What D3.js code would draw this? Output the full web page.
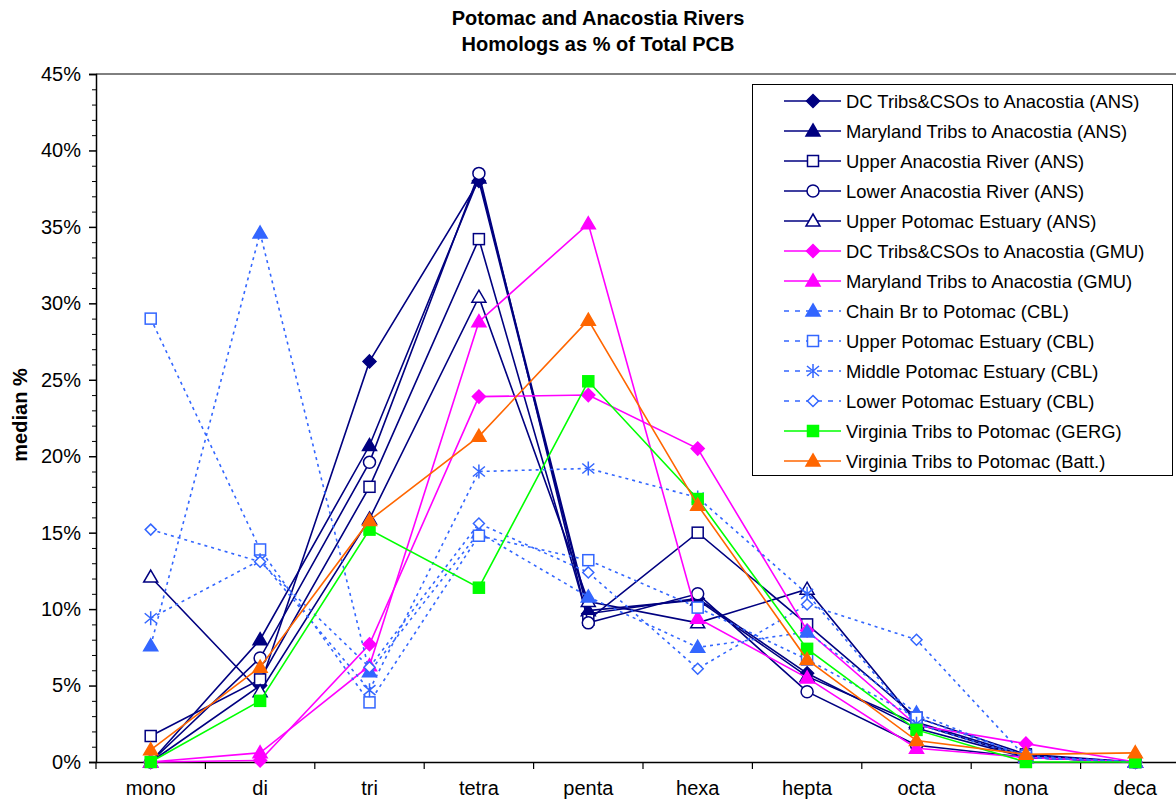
<!DOCTYPE html>
<html><head><meta charset="utf-8">
<script src="https://cdn.jsdelivr.net/npm/d3@7/dist/d3.min.js"></script>
<style>body{margin:0;background:#fff}svg{display:block}text{font-family:Arial,"Liberation Sans",sans-serif}</style>
</head><body><svg id="c" width="1176" height="800"></svg>
<script>
const categories = ["mono","di","tri","tetra","penta","hexa","hepta","octa","nona","deca"];
const yTicks = [0,5,10,15,20,25,30,35,40,45];
const seriesNames = [
 "DC Tribs&CSOs to Anacostia (ANS)","Maryland Tribs to Anacostia (ANS)","Upper Anacostia River (ANS)",
 "Lower Anacostia River (ANS)","Upper Potomac Estuary (ANS)","DC Tribs&CSOs to Anacostia (GMU)",
 "Maryland Tribs to Anacostia (GMU)","Chain Br to Potomac (CBL)","Upper Potomac Estuary (CBL)",
 "Middle Potomac Estuary (CBL)","Lower Potomac Estuary (CBL)","Virginia Tribs to Potomac (GERG)",
 "Virginia Tribs to Potomac (Batt.)"];
const dcANS    = [0.0, 5.0, 26.2, 38.0, 9.7, 10.7, 5.8, 2.2, 0.3, 0.0];
const mdANS    = [0.0, 8.0, 20.7, 38.2, 9.9, 10.6, 5.6, 2.5, 0.3, 0.0];
const upAnaANS = [1.7, 5.4, 18.0, 34.2, 9.3, 15.0, 9.0, 2.9, 0.5, 0.0];
const loAnaANS = [0.0, 6.8, 19.6, 38.5, 9.1, 11.0, 4.6, 1.1, 0.3, 0.0];
const upPotANS = [12.1, 4.6, 15.9, 30.4, 10.5, 9.1, 11.3, 2.6, 0.4, 0.0];
const dcGMU    = [0.0, 0.1, 7.7, 23.9, 24.0, 20.5, 8.6, 2.4, 1.2, 0.0];
const mdGMU    = [0.0, 0.6, 6.3, 28.8, 35.2, 9.4, 5.5, 0.9, 0.3, 0.0];
const chainCBL = [7.6, 34.6, 5.9, 15.0, 10.8, 7.5, 8.5, 3.2, 0.3, 0.0];
const upPotCBL = [29.0, 13.9, 3.9, 14.8, 13.2, 10.1, 6.7, 2.9, 0.4, 0.0];
const midPotCBL= [9.4, 13.2, 4.7, 19.0, 19.2, 17.3, 11.0, 2.5, 0.3, 0.0];
const loPotCBL = [15.2, 13.1, 6.2, 15.6, 12.4, 6.1, 10.3, 8.0, 0.3, 0.0];
const vaGERG   = [0.0, 4.0, 15.2, 11.4, 24.9, 17.2, 7.4, 2.1, 0.0, 0.0];
const vaBatt   = [0.8, 6.2, 15.8, 21.3, 28.9, 16.8, 6.7, 1.4, 0.5, 0.6];
const seriesValues = [dcANS,mdANS,upAnaANS,loAnaANS,upPotANS,dcGMU,mdGMU,chainCBL,upPotCBL,midPotCBL,loPotCBL,vaGERG,vaBatt];

const NAVY="#000080", MAG="#FF00FF", BLUE="#3366FF", GRN="#00FF00", ORG="#FF6600";
const styles = [
 {c:NAVY,m:"diamond",f:true,d:false},{c:NAVY,m:"triangle",f:true,d:false},{c:NAVY,m:"square",f:false,d:false},
 {c:NAVY,m:"circle",f:false,d:false},{c:NAVY,m:"triangle",f:false,d:false},{c:MAG,m:"diamond",f:true,d:false},
 {c:MAG,m:"triangle",f:true,d:false},{c:BLUE,m:"triangle",f:true,d:true},{c:BLUE,m:"square",f:false,d:true},
 {c:BLUE,m:"star",f:false,d:true},{c:BLUE,m:"diamondS",f:false,d:true},{c:GRN,m:"square",f:true,d:false},
 {c:ORG,m:"triangle",f:true,d:false}];

const svg = d3.select("#c");
const L=96, R=1190, T=74, B=762;
const x = d3.scaleBand().domain(categories).range([L,R]);
const cx = c => x(c)+x.bandwidth()/2;
const y = d3.scaleLinear().domain([0,45]).range([B,T]);
const FF = "Arial, 'Liberation Sans', sans-serif";

// Title
svg.append("text").attr("x",598).attr("y",25).attr("text-anchor","middle").attr("font-size",20).attr("font-weight","bold").text("Potomac and Anacostia Rivers");
svg.append("text").attr("x",598).attr("y",51).attr("text-anchor","middle").attr("font-size",20).attr("font-weight","bold").text("Homologs as % of Total PCB");

// plot frame (top and right)
svg.append("path").attr("d",`M${L},${T}H${R}V${B}`).attr("fill","none").attr("stroke","#000").attr("stroke-width",1);

// y axis
const yAx = svg.append("g").attr("transform",`translate(${L},0)`)
  .call(d3.axisLeft(y).tickValues(yTicks).tickSize(7).tickPadding(8).tickFormat(d=>d+"%"));
yAx.selectAll("text").attr("font-size",20).attr("font-family",FF).attr("fill","#000");
yAx.selectAll("line,path").attr("stroke","#000").attr("stroke-width",1.5);
svg.append("g").attr("transform",`translate(${L},0)`)
  .call(d3.axisLeft(y).tickValues(d3.range(0,46,1).filter(v=>v%5)).tickSize(4).tickFormat(""))
  .call(g=>g.select(".domain").remove()).selectAll("line").attr("stroke","#000");

// x axis
const xAx = svg.append("g").attr("transform",`translate(0,${B})`)
  .call(d3.axisBottom(x).tickSize(0).tickPadding(19));
xAx.select(".domain").attr("stroke","#000").attr("stroke-width",1.5);
xAx.selectAll("text").attr("font-size",20).attr("font-family",FF).attr("fill","#000");
svg.append("g").selectAll("line").data(categories).join("line")
  .attr("x1",d=>x(d)).attr("x2",d=>x(d)).attr("y1",B).attr("y2",B+7).attr("stroke","#000").attr("stroke-width",1.2);

// y label
svg.append("text").attr("transform","translate(27,415) rotate(-90)").attr("text-anchor","middle")
  .attr("font-size",20).attr("font-weight","bold").text("median %");

function marker(g, st, px, py){
  const s = st.m;
  let el;
  if(s==="circle"){ el=g.append("circle").attr("cx",px).attr("cy",py).attr("r",6); }
  else if(s==="square"){ el=g.append("rect").attr("x",px-5.5).attr("y",py-5.5).attr("width",11).attr("height",11); }
  else if(s==="triangle"){ el=g.append("path").attr("d",`M${px},${py-7}L${px+7},${py+5}L${px-7},${py+5}Z`); }
  else if(s==="diamond"){ el=g.append("path").attr("d",`M${px},${py-6.5}L${px+6.5},${py}L${px},${py+6.5}L${px-6.5},${py}Z`); }
  else if(s==="diamondS"){ el=g.append("path").attr("d",`M${px},${py-5.5}L${px+5.5},${py}L${px},${py+5.5}L${px-5.5},${py}Z`); }
  else if(s==="star"){ el=g.append("path").attr("d",`M${px},${py-7}V${py+7}M${px-6},${py-5}L${px+6},${py+5}M${px-6},${py+5}L${px+6},${py-5}`); }
  el.attr("stroke",st.c).attr("stroke-width",1.5).attr("fill", s==="star"?"none":(st.f?st.c:"#fff"));
}

const line = d3.line().x((d,i)=>cx(categories[i])).y(d=>y(d));
seriesValues.forEach((vals,k)=>{
  const st=styles[k];
  const g=svg.append("g");
  g.append("path").datum(vals).attr("d",line).attr("fill","none").attr("stroke",st.c)
    .attr("stroke-width",1.6).attr("stroke-dasharray",st.d?"3,4":null);
  vals.forEach((v,i)=>marker(g,st,cx(categories[i]),y(v)));
});

// legend
const lg = svg.append("g");
lg.append("rect").attr("x",752.5).attr("y",84.5).attr("width",420).attr("height",391).attr("fill","#fff").attr("stroke","#000").attr("stroke-width",1);
seriesNames.forEach((n,k)=>{
  const st=styles[k], yy=101+k*30;
  lg.append("line").attr("x1",784).attr("x2",841).attr("y1",yy).attr("y2",yy).attr("stroke",st.c).attr("stroke-width",1.6)
    .attr("stroke-dasharray",st.d?"5,6":null);
  marker(lg,st,813,yy);
  lg.append("text").attr("x",846).attr("y",yy+7).attr("font-size",18.4).text(n);
});
</script></body></html>
